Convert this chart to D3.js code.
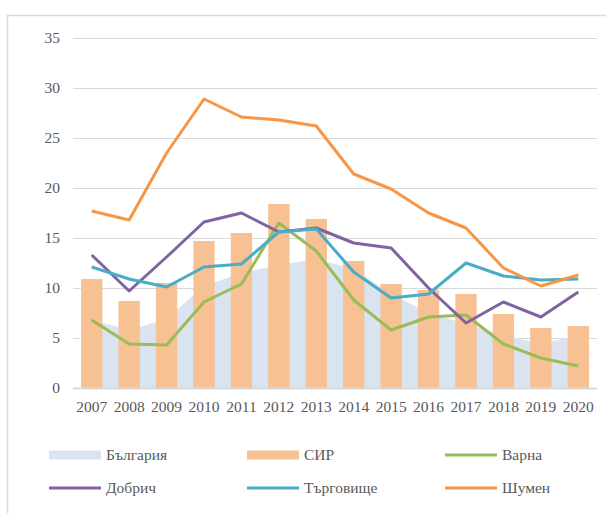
<!DOCTYPE html>
<html>
<head>
  <script src="https://d3js.org/d3.v7.min.js"></script>
  <style>
    body {
      margin: 0;
      background-color: #fff;
    }

    .tick-label, .legend-label {
      font-family: "Liberation Serif", "DejaVu Serif", serif;
      font-size: 15.5px;
      fill: #595959;
    }

    .grid line {
      stroke: #d9d9d9;
      stroke-width: 1px;
    }

    .series-line {
      fill: none;
      stroke-width: 3px;
      stroke-linejoin: round;
    }
  </style>
</head>
<body>
  <div id="chart"></div>
  <script>
    // Data
    const years = ["2007", "2008", "2009", "2010", "2011", "2012", "2013",
                   "2014", "2015", "2016", "2017", "2018", "2019", "2020"];
    const yTicks = [0, 5, 10, 15, 20, 25, 30, 35];

    const bulgaria = [6.8, 5.8, 6.9, 10.2, 11.5, 12.3, 12.9, 11.9, 9.4, 7.5, 6.4, 5.3, 4.4, 5.3];
    const sir = [10.9, 8.7, 10.5, 14.7, 15.5, 18.4, 16.9, 12.7, 10.4, 9.8, 9.4, 7.4, 6.0, 6.2];
    const varna = [6.8, 4.4, 4.3, 8.6, 10.4, 16.5, 13.7, 8.8, 5.8, 7.1, 7.3, 4.4, 3.0, 2.2];
    const dobrich = [13.3, 9.7, 13.1, 16.6, 17.5, 15.6, 16.0, 14.5, 14.0, 10.0, 6.5, 8.6, 7.1, 9.6];
    const targovishte = [12.1, 10.9, 10.1, 12.1, 12.4, 15.6, 15.9, 11.6, 9.0, 9.4, 12.5, 11.2, 10.8, 10.9];
    const shumen = [17.7, 16.8, 23.5, 28.9, 27.1, 26.8, 26.2, 21.4, 19.9, 17.5, 16.0, 12.0, 10.2, 11.3];

    const lineSeries = [
      { name: "Варна", values: varna, color: "#9bbb59" },
      { name: "Добрич", values: dobrich, color: "#8064a2" },
      { name: "Търговище", values: targovishte, color: "#4bacc6" },
      { name: "Шумен", values: shumen, color: "#f79646" }
    ];

    const legendItems = [
      { name: "България", type: "area", color: "#dae3f0" },
      { name: "СИР", type: "bar", color: "#f8c193" },
      { name: "Варна", type: "line", color: "#9bbb59" },
      { name: "Добрич", type: "line", color: "#8064a2" },
      { name: "Търговище", type: "line", color: "#4bacc6" },
      { name: "Шумен", type: "line", color: "#f79646" }
    ];

    // Layout
    const W = 606, H = 513;
    const plot = { left: 73, right: 597, top: 38, bottom: 388 };

    const svg = d3.select("#chart")
      .append("svg")
      .attr("width", W)
      .attr("height", H);

    // chart frame
    svg.append("rect")
      .attr("x", 7.5)
      .attr("y", 15.5)
      .attr("width", W + 10)
      .attr("height", H + 10)
      .attr("fill", "#fff")
      .attr("stroke", "#d9d9d9")
      .attr("stroke-width", 1.5);

    // Scales
    const x = d3.scaleBand()
      .domain(years)
      .range([plot.left, plot.right]);

    const y = d3.scaleLinear()
      .domain([0, 35])
      .range([plot.bottom, plot.top]);

    const cx = d => x(d) + x.bandwidth() / 2;
    const barW = x.bandwidth() * 0.57;

    // Gridlines
    svg.append("g")
      .attr("class", "grid")
      .selectAll("line")
      .data(yTicks.filter(t => t > 0))
      .join("line")
      .attr("x1", plot.left)
      .attr("x2", plot.right)
      .attr("y1", d => y(d) + 0.5)
      .attr("y2", d => y(d) + 0.5);

    // Area (България)
    const area = d3.area()
      .x((d, i) => cx(years[i]))
      .y0(y(0))
      .y1(d => y(d));

    svg.append("path")
      .datum(bulgaria)
      .attr("fill", "#dae3f0")
      .attr("d", area);

    // Bars (СИР)
    svg.append("g")
      .selectAll("rect")
      .data(sir)
      .join("rect")
      .attr("x", (d, i) => cx(years[i]) - barW / 2)
      .attr("y", d => y(d))
      .attr("width", barW)
      .attr("height", d => y(0) - y(d))
      .attr("fill", "#f8c193");

    // X axis line
    svg.append("line")
      .attr("x1", plot.left)
      .attr("x2", plot.right)
      .attr("y1", y(0) + 0.5)
      .attr("y2", y(0) + 0.5)
      .attr("stroke", "#d9d9d9")
      .attr("stroke-width", 2);

    // Lines
    const line = d3.line()
      .x((d, i) => cx(years[i]))
      .y(d => y(d));

    svg.append("g")
      .selectAll("path")
      .data(lineSeries)
      .join("path")
      .attr("class", "series-line")
      .attr("stroke", d => d.color)
      .attr("d", d => line(d.values));

    // Y tick labels
    svg.append("g")
      .selectAll("text")
      .data(yTicks)
      .join("text")
      .attr("class", "tick-label")
      .attr("x", 60)
      .attr("y", d => y(d))
      .attr("dy", "0.35em")
      .attr("text-anchor", "end")
      .text(d => d);

    // X tick labels
    svg.append("g")
      .selectAll("text")
      .data(years)
      .join("text")
      .attr("class", "tick-label")
      .attr("x", d => cx(d))
      .attr("y", 407)
      .attr("dy", "0.35em")
      .attr("text-anchor", "middle")
      .text(d => d);

    // Legend
    const legendCols = [49, 247, 445];
    const legendRows = [455, 488];
    const legend = svg.append("g")
      .selectAll("g")
      .data(legendItems)
      .join("g")
      .attr("transform", (d, i) => `translate(${legendCols[i % 3]}, ${legendRows[Math.floor(i / 3)]})`);

    legend.filter(d => d.type !== "line")
      .append("rect")
      .attr("x", 0)
      .attr("y", -4.5)
      .attr("width", 52)
      .attr("height", 9)
      .attr("fill", d => d.color);

    legend.filter(d => d.type === "line")
      .append("line")
      .attr("x1", 0)
      .attr("x2", 52)
      .attr("y1", 0)
      .attr("y2", 0)
      .attr("stroke", d => d.color)
      .attr("stroke-width", 3);

    legend.append("text")
      .attr("class", "legend-label")
      .attr("x", 57)
      .attr("y", 0)
      .attr("dy", "0.35em")
      .text(d => d.name);
  </script>
</body>
</html>
